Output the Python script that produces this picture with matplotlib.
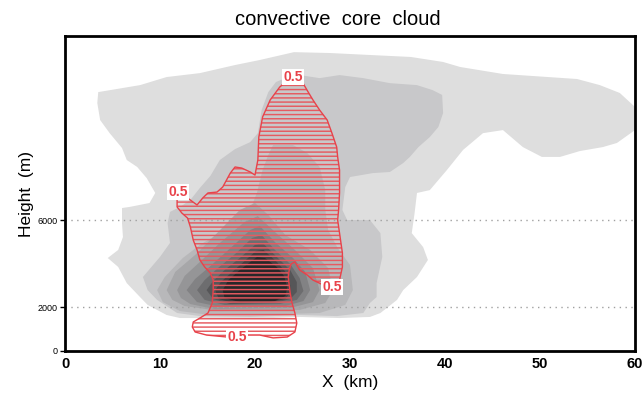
import matplotlib
matplotlib.use("Agg")
import matplotlib.pyplot as plt
from matplotlib.patches import Polygon

# ---------------------------------------------------------------------------
# Cloud-water shading bands, outermost (lightest) to innermost (darkest).
# Each band outline: horizontal distance X (km) and height (m).
# ---------------------------------------------------------------------------
band1_x = [3.5, 7.9, 10.7, 14.2, 17.9, 20.5, 24.1, 27.9,
           32.1, 36.4, 39.8, 41.6, 46.1, 53.9, 56.3, 58.4,
           60.0, 60.0, 58.1, 56.6, 54.2, 52.1, 50.2, 48.2,
           46.1, 44.0, 41.9, 40.2, 38.4, 37.05, 36.8, 36.5,
           37.7, 38.2, 37.05, 35.6, 34.95, 33.2, 32.1, 28.9,
           24.7, 19.5, 14.2, 12.1, 10.7, 8.7, 7.9, 6.5,
           5.6, 4.5, 5.6, 6.1, 6.0, 6.0, 6.8, 8.9,
           9.5, 8.6, 7.6, 6.5, 6.0, 4.7, 3.7, 3.4]
band1_z = [11860, 12180, 12550, 12730, 13100, 13330, 13690, 13650,
           13560, 13470, 13240, 13010, 12690, 12460, 12180, 11820,
           11180, 10120, 9530, 9340, 9160, 8890, 8890, 9340,
           10120, 9980, 9210, 8290, 7370, 7240, 6320, 5400,
           4760, 4170, 3390, 2790, 2340, 1740, 1560, 1510,
           1560, 1470, 1510, 1510, 1650, 2110, 2470, 3110,
           3850, 4260, 4630, 5220, 5860, 6550, 6600, 6780,
           7240, 7920, 8430, 8750, 9300, 9980, 10580, 11360]

band2_x = [23.2, 24.7, 26.8, 28.9, 31.4, 34.2, 37.05, 38.7,
           39.7, 39.8, 39.3, 38.4, 37.2, 36.3, 35.6, 34.2,
           32.4, 30.0, 29.5, 29.2, 29.7, 32.1, 33.2, 33.4,
           32.8, 32.8, 32.1, 31.4, 28.6, 24.7, 19.5, 14.2,
           11.8, 9.7, 8.7, 8.2, 10.0, 11.05, 10.8, 11.05,
           12.1, 13.2, 14.2, 15.3, 16.3, 17.9, 19.5, 20.3,
           20.7, 21.4, 22.2]
band2_z = [12500, 12640, 12500, 12640, 12500, 12270, 12180, 11950,
           11730, 10900, 10260, 9800, 9340, 8890, 8610, 8200,
           8150, 7970, 7510, 6460, 6000, 6000, 5400, 4310,
           3110, 2470, 2200, 1740, 1600, 1650, 1560, 1600,
           1740, 2340, 2790, 3390, 4310, 4950, 5860, 6370,
           6600, 6920, 7470, 8020, 8750, 9250, 9570, 9980,
           11040, 11860, 12320]

band3_x = [21.9, 24.0, 25.5, 26.8, 27.4, 27.4, 27.7, 28.7,
           30.0, 30.3, 29.5, 26.8, 19.5, 15.3, 12.1, 10.3,
           9.7, 10.5, 12.4, 14.2, 16.8, 19.2, 20.2, 20.8, 21.4]
band3_z = [9435, 9435, 9070, 8430, 7370, 6460, 5540, 4720,
           3940, 2790, 2110, 1740, 1650, 1650, 1830, 2240,
           2790, 3390, 4260, 4860, 5540, 6140, 7240, 8290, 8980]

band4_x = [10.7, 11.6, 13.7, 15.8, 18.4, 20.0, 21.4, 23.2,
           25.8, 27.7, 28.2, 27.4, 24.7, 16.3, 12.6, 11.3]
band4_z = [2790, 3620, 4400, 5310, 6460, 6780, 6230, 5310,
           4630, 3800, 2790, 2200, 1880, 1830, 2060, 2340]

band5_x = [11.8, 12.6, 14.2, 16.3, 18.9, 20.3, 22.1, 24.2,
           26.1, 26.8, 26.1, 23.7, 15.8, 13.2, 12.2]
band5_z = [2790, 3440, 4080, 4950, 5910, 6180, 5450, 4630,
           3800, 2790, 2240, 1970, 1920, 2150, 2430]

band6_x = [12.8, 13.7, 15.3, 17.2, 19.5, 20.5, 22.1, 24.0,
           25.3, 25.8, 25.1, 23.2, 16.3, 13.9]
band6_z = [2790, 3300, 3890, 4630, 5540, 5730, 4990, 4260,
           3620, 2790, 2290, 2060, 2020, 2240]

band7_x = [13.9, 14.7, 16.1, 17.9, 19.7, 20.7, 22.1, 23.7,
           24.7, 25.1, 24.4, 22.6, 16.8, 14.7]
band7_z = [2790, 3250, 3800, 4440, 5180, 5310, 4630, 3990,
           3340, 2750, 2340, 2150, 2110, 2340]

band8_x = [14.9, 15.6, 16.8, 18.4, 20.0, 20.8, 22.2, 23.7,
           24.4, 24.4, 23.7, 22.1, 17.4, 15.6]
band8_z = [2790, 3210, 3710, 4260, 4860, 4950, 4350, 3710,
           3160, 2700, 2380, 2200, 2150, 2380]

band9_x = [15.8, 16.4, 17.6, 18.9, 20.1, 20.9, 22.3, 23.4,
           23.7, 23.7, 23.2, 21.6, 17.7, 16.2]
band9_z = [2790, 3160, 3620, 4120, 4580, 4630, 4080, 3530,
           3020, 2660, 2380, 2240, 2200, 2380]

band10_x = [16.6, 17.2, 18.4, 19.5, 20.2, 21.05, 22.3, 23.05,
            23.4, 23.2, 22.1, 18.4, 16.8]
band10_z = [2790, 3250, 3710, 4080, 4300, 4260, 3850, 3440,
            2930, 2520, 2290, 2240, 2430]

band_grays = ["#dedede", "#c8c8ca", "#b8b8ba", "#a7a7a9", "#959597",
              "#828284", "#6d6d6f", "#565658", "#3f3f41", "#272729"]

# Convective-core fraction: the 0.5 contour (hatched interior)
core_x = [24.0, 25.05, 25.6, 26.1, 26.8, 27.6, 28.1, 28.6,
          28.7, 28.9, 28.9, 28.8, 28.7, 28.9, 29.2, 29.2,
          28.9, 28.1, 27.2, 26.1, 25.5, 24.7, 24.2, 23.8,
          23.6, 23.5, 23.7, 23.9, 24.2, 24.4, 24.2, 23.4,
          21.9, 20.5, 19.2, 18.1, 17.05, 14.9, 13.7, 13.4,
          13.5, 14.2, 15.05, 15.5, 15.6, 15.6, 15.3, 14.7,
          14.2, 13.9, 13.5, 13.2, 12.9, 12.3, 11.8, 11.8,
          12.9, 13.9, 14.5, 15.05, 16.0, 16.6, 17.4, 17.9,
          18.6, 19.5, 20.0, 20.3, 20.4, 20.8, 21.6, 22.6, 23.2]
core_z = [12550, 12270, 11860, 11500, 11040, 10580, 9980, 9340,
          8890, 8290, 7240, 6460, 6000, 5400, 4490, 3850,
          3250, 2930, 3020, 3250, 3480, 3710, 4080, 3990,
          3710, 3390, 2660, 2200, 1740, 1280, 870, 640,
          600, 730, 730, 640, 640, 730, 870, 1100,
          1330, 1510, 1740, 2200, 2790, 3250, 3570, 3850,
          4170, 4630, 5080, 5680, 6090, 6320, 6600, 7050,
          7010, 6690, 7010, 7240, 7280, 7510, 8150, 8430,
          8380, 8200, 8060, 8750, 9800, 10720, 11500, 12090, 12320]

core_level = "0.5"
label_x = [24.0, 11.9, 28.1, 18.1]
label_z = [12550, 7280, 2930, 640]

x_ticks = [0, 10, 20, 30, 40, 50, 60]
z_ticks = [0, 2000, 6000]
grid_levels = [2000, 6000]

# ---------------------------------------------------------------------------
fig = plt.figure(figsize=(6.44, 3.95), dpi=100)
ax = fig.add_axes([65 / 644, 44 / 395, 570 / 644, 315 / 395])

bands = [(band1_x, band1_z), (band2_x, band2_z), (band3_x, band3_z),
         (band4_x, band4_z), (band5_x, band5_z), (band6_x, band6_z),
         (band7_x, band7_z), (band8_x, band8_z), (band9_x, band9_z),
         (band10_x, band10_z)]
for i, ((bx, bz), col) in enumerate(zip(bands, band_grays)):
    ax.fill(bx, bz, color=col, lw=0, zorder=1 + i)

for g in grid_levels:
    ax.axhline(g, color="#a0a0a0", lw=1.0, ls=(0, (1.0, 3.2)), zorder=15)

red = "#e8424a"
plt.rcParams["hatch.linewidth"] = 1.05
hatch = Polygon(list(zip(core_x, core_z)), closed=True, fill=False,
                edgecolor="#e65a60", lw=0, hatch="----", zorder=20)
ax.add_patch(hatch)
ax.plot(core_x + core_x[:1], core_z + core_z[:1], color=red, lw=1.0,
        zorder=21)
for lx, lz in zip(label_x, label_z):
    ax.text(lx, lz, core_level, color=red, fontsize=10, fontweight="bold",
            family="Liberation Sans", ha="center", va="center", zorder=22,
            bbox=dict(boxstyle="square,pad=0.06", fc="white", ec="none"))

ax.set_xlim(0, 60)
ax.set_ylim(0, 14430)
ax.set_xticks(x_ticks)
ax.set_xticklabels([str(t) for t in x_ticks], fontsize=10.5,
                   fontweight="bold", family="Liberation Sans")
ax.set_yticks(z_ticks)
ax.set_yticklabels([str(t) for t in z_ticks], fontsize=6.5,
                   family="Liberation Sans")
ax.tick_params(axis="x", length=0, pad=4)
ax.tick_params(axis="y", length=3.5, width=1.0, pad=1.5)
for s in ax.spines.values():
    s.set_linewidth(2.0)
    s.set_zorder(30)

fig.text(338 / 644, 1 - 25 / 395, "convective  core  cloud", ha="center",
         va="baseline", fontsize=14.5, family="Liberation Sans")
fig.text(350 / 644, 1 - 382 / 395, "X  (km)", ha="center", va="center",
         fontsize=12.5, family="Liberation Sans")
fig.text(27 / 644, 1 - 194 / 395, "Height  (m)", ha="center", va="center",
         rotation=90, fontsize=12.5, family="Liberation Sans")

fig.savefig("out.png", dpi=100)
